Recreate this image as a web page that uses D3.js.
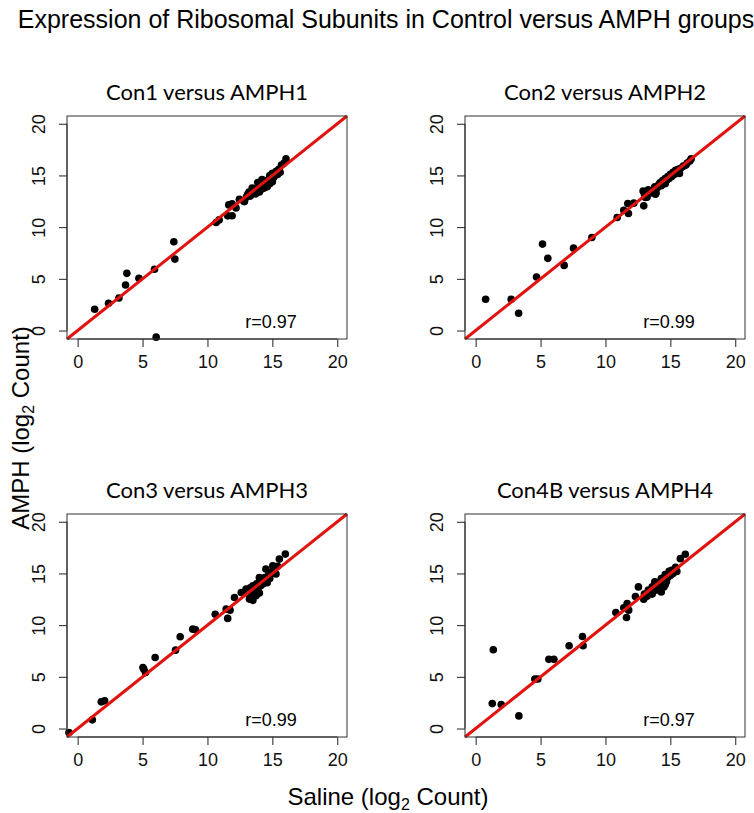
<!DOCTYPE html>
<html>
<head>
<meta charset="utf-8">
<script src="https://cdn.jsdelivr.net/npm/d3@7"></script>
<style>
  body { margin: 0; background: #fff; }
</style>
</head>
<body>
<div id="chart"></div>
<script>
// Panel titles and correlation labels
const panelTitles = ["Con1 versus AMPH1", "Con2 versus AMPH2", "Con3 versus AMPH3", "Con4B versus AMPH4"];
const rLabels = ["r=0.97", "r=0.99", "r=0.99", "r=0.97"];
const tickValues = [0, 5, 10, 15, 20];

// [saline, amph] log2 counts
const pairs1 = [
    [1.31, 2.06], [2.38, 2.64], [3.18, 3.15], [3.69, 4.41], [3.79, 5.53], [4.72, 5.05],
    [5.92, 5.92], [6.05, -0.64], [7.41, 8.59], [7.49, 6.91], [10.67, 10.45], [10.9, 10.7],
    [11.64, 12.15], [11.9, 12.25], [11.56, 11.09], [11.9, 11.1], [12.2, 11.86], [12.46, 12.7],
    [12.85, 12.47], [13.1, 13.18], [13.44, 13.79], [13.74, 13.34], [13.87, 14.31],
    [12.8, 12.5], [13.0, 12.9], [13.3, 13.0], [13.5, 13.3], [13.6, 13.6], [13.7, 13.2],
    [13.9, 13.5], [14.0, 13.9], [14.0, 13.4], [14.1, 14.2], [14.2, 13.7], [14.3, 14.1],
    [14.4, 13.8], [14.4, 14.5], [14.5, 14.0], [14.6, 14.3], [14.6, 13.9], [14.7, 14.6],
    [14.8, 14.2], [14.8, 15.0], [14.9, 14.6], [15.0, 14.4], [15.0, 15.2], [15.1, 14.8],
    [15.2, 15.0], [15.3, 15.4], [15.4, 15.1], [15.5, 15.6], [15.6, 15.3], [15.7, 16.0],
    [15.9, 16.2], [16.05, 16.62], [13.2, 13.4], [14.2, 14.6]
];
const pairs2 = [
    [0.77, 3.02], [2.74, 3.02], [3.31, 1.67], [4.69, 5.18], [5.15, 8.36], [5.56, 6.98],
    [6.82, 6.30], [7.54, 7.97], [8.95, 9.0], [10.9, 10.93], [11.41, 11.64], [11.72, 12.28],
    [11.77, 11.32], [12.18, 12.32], [12.9, 13.5], [12.95, 12.06], [13.08, 12.86], [13.85, 13.18],
    [13.0, 13.2], [13.2, 12.9], [13.4, 13.5], [13.5, 13.3], [13.7, 13.6], [13.8, 13.9],
    [14.0, 13.8], [14.1, 14.1], [14.2, 14.3], [14.3, 14.0], [14.4, 14.5], [14.5, 14.3],
    [14.6, 14.7], [14.7, 14.5], [14.8, 14.9], [14.9, 14.7], [15.0, 15.1], [15.1, 14.9],
    [15.2, 15.3], [15.3, 15.1], [15.4, 15.5], [15.5, 15.3], [15.6, 15.6], [15.7, 15.2],
    [15.8, 15.7], [16.0, 15.9], [16.2, 16.0], [16.3, 16.2], [16.5, 16.4], [16.6, 16.6],
    [13.3, 13.6], [13.9, 13.3], [14.6, 14.2]
];
const pairs3 = [
    [-0.67, -0.39], [1.13, 0.84], [1.82, 2.58], [2.08, 2.68], [5.03, 5.9], [5.1, 5.74],
    [5.23, 5.42], [5.97, 6.87], [7.54, 7.58], [7.9, 8.87], [8.87, 9.61], [9.08, 9.55],
    [10.6, 11.06], [11.44, 11.55], [11.56, 10.65], [11.74, 11.45], [12.08, 12.68], [12.6, 13.16],
    [12.97, 13.48], [13.23, 12.52], [13.74, 12.84], [14.0, 14.6], [14.5, 15.42], [15.03, 15.74],
    [15.28, 14.94], [15.54, 16.39], [16.0, 16.87],
    [13.0, 13.3], [13.2, 13.0], [13.3, 13.6], [13.4, 13.2], [13.5, 13.8], [13.6, 12.9],
    [13.7, 13.5], [13.8, 14.0], [13.9, 13.6], [14.0, 14.2], [14.1, 13.8], [14.2, 14.4],
    [14.3, 14.0], [14.4, 14.6], [14.5, 14.3], [14.6, 14.1], [14.7, 14.8], [14.8, 14.5],
    [14.9, 15.0], [15.0, 15.2], [15.2, 15.5], [15.4, 15.7], [13.5, 12.4], [14.0, 13.1]
];
const pairs4 = [
    [1.28, 2.41], [1.36, 7.62], [1.97, 2.32], [3.33, 1.22], [4.56, 4.79], [4.79, 4.79],
    [5.64, 6.69], [6.03, 6.69], [7.2, 8.0], [8.23, 8.9], [8.28, 8.0], [10.8, 11.22],
    [11.41, 11.67], [11.62, 10.74], [11.79, 11.45], [11.67, 12.09], [12.31, 12.77], [12.54, 13.7],
    [12.95, 12.5], [13.0, 13.0], [13.2, 12.8], [13.3, 13.4], [13.5, 13.1], [13.6, 13.7],
    [13.7, 13.3], [13.8, 14.2], [13.9, 13.6], [14.0, 13.4], [14.1, 14.1], [14.2, 13.8],
    [14.3, 14.5], [14.4, 14.0], [14.5, 13.7], [14.5, 14.3], [14.6, 14.9], [14.7, 14.2],
    [14.8, 14.6], [14.9, 15.2], [15.0, 14.8], [15.1, 15.3], [15.2, 15.0], [15.4, 15.6],
    [15.5, 15.2], [15.77, 16.43], [16.15, 16.85], [13.6, 13.0], [14.3, 13.2], [14.6, 13.9]
];
const allPairs = [pairs1, pairs2, pairs3, pairs4];

// Page and panel layout
let width = 754,
    height = 813;

let panelW = 280,
    panelH = 223;

let origins = [[67, 116], [465, 116], [67, 514], [465, 514]];

const sansFont = "'Liberation Sans', Arial, sans-serif";

let svg = d3.select("#chart")
    .append("svg")
    .attr("width", width)
    .attr("height", height);

// Same limits on both axes so y = x runs corner to corner
let x = d3.scaleLinear().domain([-0.82, 20.75]).range([0, panelW]);
let y = d3.scaleLinear().domain([-0.82, 20.75]).range([panelH, 0]);

allPairs.forEach((pairs, i) => {
    let g = svg.append("g")
        .attr("transform", `translate(${origins[i][0]},${origins[i][1]})`);

    // Panel title
    g.append("text")
        .attr("x", panelW / 2)
        .attr("y", -16)
        .attr("text-anchor", "middle")
        .style("font-family", "Lato, 'Open Sans', sans-serif")
        .style("font-size", "22px")
        .text(panelTitles[i]);

    // Axes
    let xAxis = g.append("g")
        .attr("transform", `translate(0,${panelH})`)
        .call(d3.axisBottom(x).tickValues(tickValues).tickSize(8).tickPadding(8));

    let yAxis = g.append("g")
        .call(d3.axisLeft(y).tickValues(tickValues).tickSize(8).tickPadding(0));

    [xAxis, yAxis].forEach(a => {
        a.select(".domain").remove();
        a.selectAll("line").attr("stroke", "#222");
        a.selectAll("text")
            .style("font-family", sansFont)
            .style("font-size", "18px")
            .attr("fill", "#111");
    });

    // Rotated y tick labels, reading bottom to top
    yAxis.selectAll("text")
        .attr("x", null)
        .attr("dy", null)
        .attr("text-anchor", "middle")
        .attr("transform", "translate(-22,0) rotate(-90)");

    // Axis lines along the tick span
    g.append("line")
        .attr("x1", x(0)).attr("x2", x(20))
        .attr("y1", panelH).attr("y2", panelH)
        .attr("stroke", "#222");
    g.append("line")
        .attr("x1", 0).attr("x2", 0)
        .attr("y1", y(0)).attr("y2", y(20))
        .attr("stroke", "#222");

    // Points
    g.selectAll("circle")
        .data(pairs)
        .enter()
        .append("circle")
        .attr("cx", d => x(d[0]))
        .attr("cy", d => y(d[1]))
        .attr("r", 3.8)
        .attr("fill", "#000");

    // y = x reference line
    g.append("line")
        .attr("x1", x(-0.82)).attr("y1", y(-0.82))
        .attr("x2", x(20.75)).attr("y2", y(20.75))
        .attr("stroke", "#e2120e")
        .attr("stroke-width", 3);

    // Box
    g.append("rect")
        .attr("width", panelW)
        .attr("height", panelH)
        .attr("fill", "none")
        .attr("stroke", "#333")
        .attr("stroke-width", 1);

    // Correlation label
    g.append("text")
        .attr("x", x(14.9))
        .attr("y", y(0.25))
        .attr("text-anchor", "middle")
        .style("font-family", sansFont)
        .style("font-size", "18px")
        .text(rLabels[i]);
});

// Main title
svg.append("text")
    .attr("x", 386)
    .attr("y", 28)
    .attr("text-anchor", "middle")
    .style("font-family", sansFont)
    .style("font-size", "25px")
    .text("Expression of Ribosomal Subunits in Control versus AMPH groups");

// Axis labels with log2 subscripts
let xLabel = svg.append("text")
    .attr("x", 388)
    .attr("y", 805)
    .attr("text-anchor", "middle")
    .style("font-family", sansFont)
    .style("font-size", "24px");
xLabel.append("tspan").text("Saline (log");
xLabel.append("tspan").attr("dy", 5).style("font-size", "16px").text("2");
xLabel.append("tspan").attr("dy", -5).text(" Count)");

let yLabel = svg.append("text")
    .attr("transform", "translate(29,428) rotate(-90)")
    .attr("text-anchor", "middle")
    .style("font-family", sansFont)
    .style("font-size", "24px");
yLabel.append("tspan").text("AMPH (log");
yLabel.append("tspan").attr("dy", 5).style("font-size", "16px").text("2");
yLabel.append("tspan").attr("dy", -5).text(" Count)");
</script>
</body>
</html>
